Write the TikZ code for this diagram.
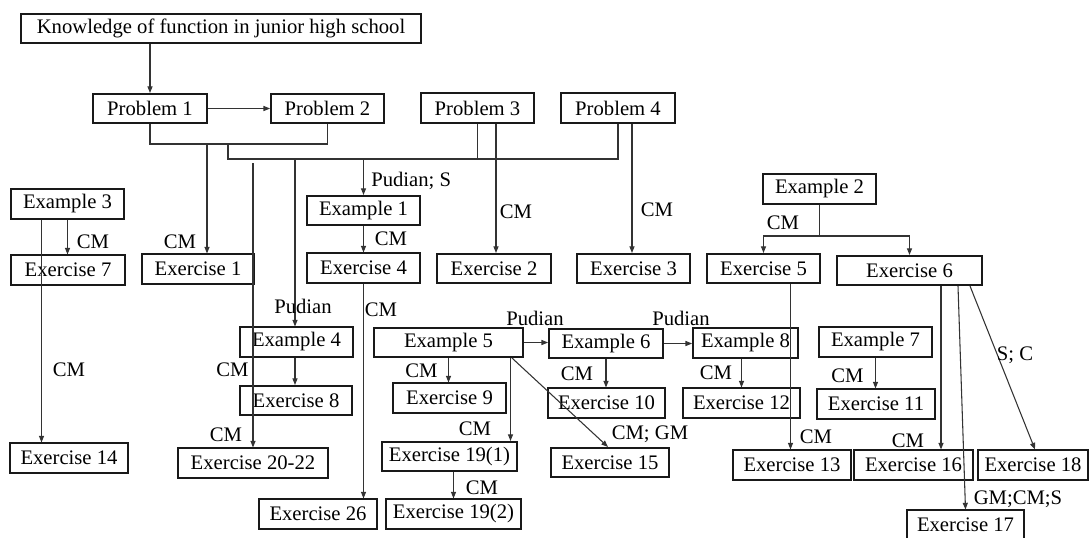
\documentclass[tikz,border=0pt]{standalone}
\usepackage{fontspec}
\setmainfont{Liberation Serif}
\usetikzlibrary{arrows.meta,calc}
\begin{document}
\begin{tikzpicture}[x=0.75pt,y=-0.75pt,
  bx/.style={draw=black!90, line width=1.3pt, inner sep=0pt, minimum height=22pt, font=\fontsize{15.5}{18}\selectfont},
  w/.style={minimum width={#1*0.75pt}},
  ln/.style={draw=black!80, line width=0.8pt},
  arr/.style={ln, -{Triangle[length=5pt,width=3.8pt]}},
  lb/.style={inner sep=0pt, font=\fontsize{15.5}{18}\selectfont}]
\useasboundingbox (0,0) rectangle (1089,537);
% boxes
\node[bx,w=400] (top) at (221,28.5) {Knowledge of function in junior high school};
\node[bx,w=114] (p1) at (150,108.5) {Problem 1};
\node[bx,w=113] (p2) at (327.5,108.5) {Problem 2};
\node[bx,w=113] (p3) at (477.5,108) {Problem 3};
\node[bx,w=114] (p4) at (618,108) {Problem 4};
\node[bx,w=113] (ex3) at (67.5,204) {Example 3};
\node[bx,w=114] (e7) at (68,270) {Exercise 7};
\node[bx,w=112] (e1) at (198,269) {Exercise 1};
\node[bx,w=113] (ex1) at (363.5,210.5) {Example 1};
\node[bx,w=113] (e4) at (363.5,268) {Exercise 4};
\node[bx,w=114] (e2) at (494,268.5) {Exercise 2};
\node[bx,w=113] (e3) at (633.5,268.5) {Exercise 3};
\node[bx,w=113] (ex2) at (819.5,189) {Example 2};
\node[bx,w=113] (e5) at (763.5,268.5) {Exercise 5};
\node[bx,w=145] (e6) at (909.5,270.5) {Exercise 6};
\node[bx,w=113] (ex4) at (296.5,342) {Example 4};
\node[bx,w=149] (ex5) at (448.5,342.5) {Example 5};
\node[bx,w=114] (ex6) at (606,343.5) {Example 6};
\node[bx,w=105] (ex8) at (745.5,343) {Example 8};
\node[bx,w=113] (ex7) at (875.5,342) {Example 7};
\node[bx,w=112] (e8) at (296,400.5) {Exercise 8};
\node[bx,w=113] (e9) at (449.5,398) {Exercise 9};
\node[bx,w=117] (e10) at (606.5,403) {Exercise 10};
\node[bx,w=117] (e12) at (741.5,403) {Exercise 12};
\node[bx,w=118] (e11) at (876,404) {Exercise 11};
\node[bx,w=118] (e14) at (69,458) {Exercise 14};
\node[bx,w=150] (e2022) at (253,463) {Exercise 20-22};
\node[bx,w=135] (e191) at (449.5,456.5) {Exercise 19(1)};
\node[bx,w=118] (e15) at (610,462.5) {Exercise 15};
\node[bx,w=118] (e13) at (792,465) {Exercise 13};
\node[bx,w=119] (e16) at (913.5,465) {Exercise 16};
\node[bx,w=110] (e18) at (1033,465) {Exercise 18};
\node[bx,w=118] (e26) at (318,514) {Exercise 26};
\node[bx,w=135] (e192) at (453.5,514) {Exercise 19(2)};
\node[bx,w=117] (e17) at (965.5,525) {Exercise 17};
% junctions and start points
\coordinate (j1) at (150,144);
\coordinate (j3) at (207,144);
\coordinate (j4) at (228,144);
\coordinate (j5) at (228,159);
\coordinate (j6) at (253,163);
\coordinate (j7) at (819.5,236);
\coordinate (sP3) at ($(p3.south)+(18.5,0)$);
\coordinate (sP4) at ($(p4.south)+(14,0)$);
\coordinate (sX4) at (295,159);
\coordinate (sE4) at (295,0);
\coordinate (sEx3) at ($(ex3.south)+(-26,0)$);
\coordinate (sE5) at ($(e5.south)+(27,0)$);
\coordinate (sE6a) at ($(e6.south)+(31.5,0)$);
\coordinate (sE6b) at ($(e6.south)+(48.5,0)$);
\coordinate (sE6c) at ($(e6.south)+(60.5,0)$);
\coordinate (tE18) at ($(e18.north)+(2,0)$);
\coordinate (sX5a) at ($(ex5.south)+(62,0)$);
\coordinate (sX5b) at ($(ex5.south)+(63.5,0)$);
\coordinate (tE15) at ($(e15.north)+(-2,0)$);
% connectors top
\draw[arr] (top.south -| p1.north) -- (p1.north);
\draw[arr] (p1.east) -- (p2.west);
\draw[ln] (p1.south) -- (j1) -- (j1 -| p2.south) -- (p2.south);
\draw[arr] (j3) -- (j3 |- e1.north);
\draw[ln] (j4) -- (j5) -- (j5 -| p4.south) -- (p4.south);
\draw[ln] (p3.south) -- (p3.south |- j5);
\draw[arr] (sP3) -- (sP3 |- e2.north);
\draw[arr] (sP4) -- (sP4 |- e3.north);
\draw[arr] (j5 -| ex1.north) -- (ex1.north);
\draw[arr] (sX4) -- (sX4 |- ex4.north);
\draw[arr] (j6) -- (j6 |- e2022.north);
% left
\draw[arr] (ex3.south) -- (ex3.south |- e7.north);
\draw[arr] (sEx3) -- (sEx3 |- e14.north);
% middle
\draw[arr] (ex1.south) -- (e4.north);
\draw[arr] (e4.south) -- (e4.south |- e26.north);
\draw[arr] (sE4 |- ex4.south) -- (sE4 |- e8.north);
% example 2
\draw[ln] (ex2.south) -- (j7);
\draw[arr] (j7) -| (e5.north);
\draw[arr] (j7) -| (e6.north);
\draw[arr] (sE5) -- (sE5 |- e13.north);
\draw[arr] (sE6a) -- (sE6a |- e16.north);
\draw[arr] (sE6b) -- (e17.north);
\draw[arr] (sE6c) -- (tE18);
% examples row
\draw[arr] (ex5.east) -- (ex5.east -| ex6.west);
\draw[arr] (ex6.east) -- (ex6.east -| ex8.west);
\draw[arr] (ex5.south) -- (ex5.south |- e9.north);
\draw[arr] (sX5a) -- (sX5a |- e191.north);
\draw[arr] (sX5b) -- (tE15);
\draw[arr] (ex6.south) -- (ex6.south |- e10.north);
\draw[arr] (e12.north |- ex8.south) -- (e12.north);
\draw[arr] (ex7.south) -- (ex7.south |- e11.north);
\draw[arr] (e192.north |- e191.south) -- (e192.north);
% labels
\node[lb] (l1) at (93,242) {CM};
\node[lb] (l2) at (69,370) {CM};
\node[lb] (l3) at (180,242) {CM};
\node[lb,anchor=west] (l4) at (371,181) {Pudian; S};
\node[lb] (l5) at (391,239) {CM};
\node[lb] (l6) at (516,212) {CM};
\node[lb] (l7) at (657,210) {CM};
\node[lb] (l8) at (783,223) {CM};
\node[lb] (l9) at (303,306) {Pudian};
\node[lb] (l10) at (381,310) {CM};
\node[lb] (l11) at (232.5,370) {CM};
\node[lb] (l12) at (226,435) {CM};
\node[lb] (l13) at (535,318) {Pudian};
\node[lb] (l14) at (681,318) {Pudian};
\node[lb] (l15) at (421.5,371) {CM};
\node[lb] (l16) at (475,429) {CM};
\node[lb] (l17) at (650,434) {CM; GM};
\node[lb] (l18) at (577,374) {CM};
\node[lb] (l19) at (716,373) {CM};
\node[lb] (l20) at (847.5,376) {CM};
\node[lb] (l21) at (816,437) {CM};
\node[lb] (l22) at (908,441) {CM};
\node[lb] (l23) at (1015,355) {S; C};
\node[lb] (l24) at (1018,499) {GM;CM;S};
\node[lb] (l25) at (482,488) {CM};
\end{tikzpicture}
\end{document}
